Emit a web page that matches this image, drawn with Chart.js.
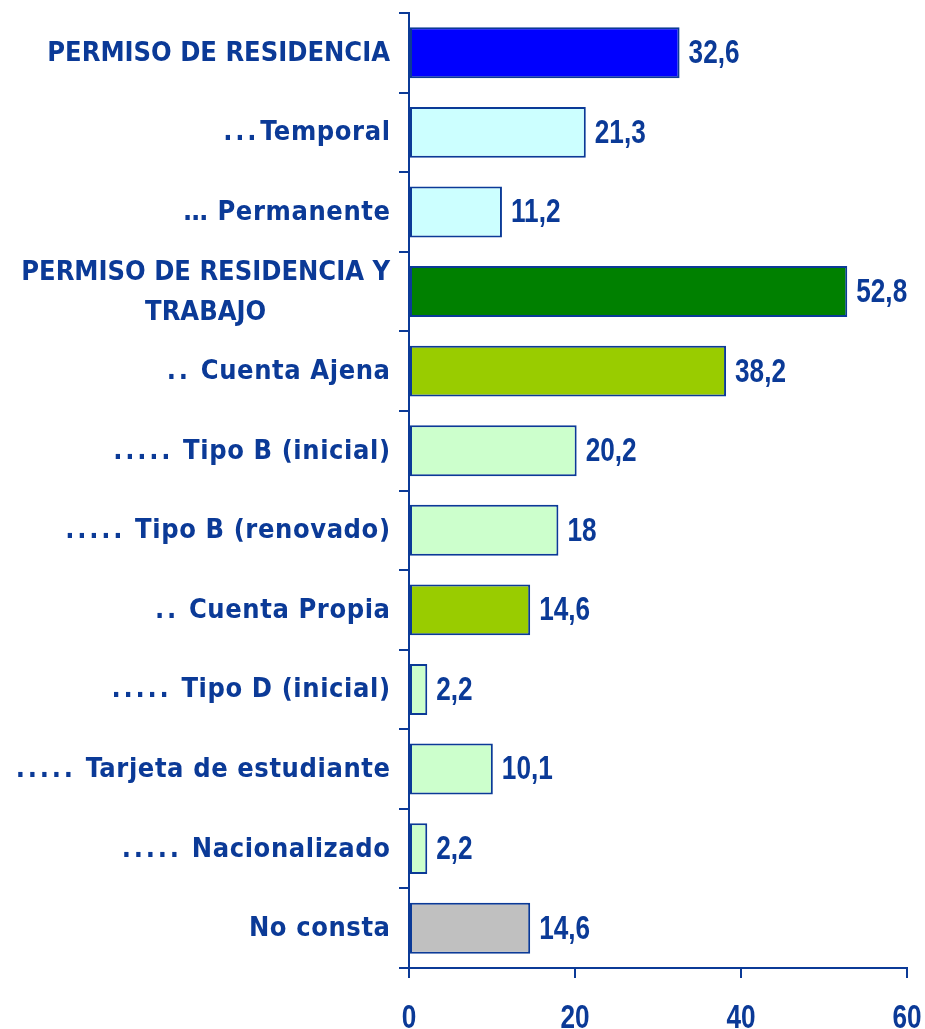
<!DOCTYPE html>
<html>
<head>
<meta charset="utf-8">
<script src="https://cdn.jsdelivr.net/npm/chart.js@4"></script>
<style>
  html, body { margin: 0; padding: 0; background: #fff; }
  #wrap { width: 925px; height: 1029px; }
</style>
</head>
<body>
<div id="wrap"><canvas id="permisosChart" width="925" height="1029"></canvas></div>
<script>
// values
const categories = [
    ["PERMISO DE RESIDENCIA"],
    ["...Temporal"],
    ["\u2026 Permanente"],
    ["PERMISO DE RESIDENCIA Y", "TRABAJO"],
    [".. Cuenta Ajena"],
    ["..... Tipo B (inicial)"],
    ["..... Tipo B (renovado)"],
    [".. Cuenta Propia"],
    ["..... Tipo D (inicial)"],
    ["..... Tarjeta de estudiante"],
    ["..... Nacionalizado"],
    ["No consta"]
];
const values = [32.6, 21.3, 11.2, 52.8, 38.2, 20.2, 18, 14.6, 2.2, 10.1, 2.2, 14.6];
const barColors = [
    "#0000ff", "#ccffff", "#ccffff", "#008000", "#99cc00", "#ccffcc",
    "#ccffcc", "#99cc00", "#ccffcc", "#ccffcc", "#ccffcc", "#c0c0c0"
];
const xTicks = [0, 20, 40, 60];

const navy = "#0b3a97";
const labelFont = "bold 27px 'DejaVu Sans Condensed', 'DejaVu Sans', sans-serif";
const dotPitch = 12;
const numFont = "bold 34px 'Liberation Sans', Arial, sans-serif";
const squeeze = 0.77;   // numbers in the picture use a narrow face

function drawNarrow(ctx, txt, x, y, align) {
    ctx.save();
    ctx.translate(x, y);
    ctx.scale(squeeze, 1);
    ctx.textAlign = align;
    ctx.fillText(txt, 0, 0);
    ctx.restore();
}

// y labels drawn by hand: centred two-line label and wide-spaced leading dots
const categoryLabels = {
    id: "categoryLabels",
    afterDraw(chart) {
        const ctx = chart.ctx;
        const y = chart.scales.y;
        ctx.save();
        ctx.font = labelFont;
        ctx.fillStyle = navy;
        ctx.textBaseline = "middle";
        const right = y.right - 19;
        categories.forEach((lines, i) => {
            const cy = y.getPixelForValue(i) + 1;
            const lh = 40;
            const caps = lines[0] === lines[0].toUpperCase();
            const sp = caps ? 0 : 0.6;
            ctx.letterSpacing = sp + "px";
            if (lines.length > 1) {
                const widest = Math.max(...lines.map(l => ctx.measureText(l).width));
                ctx.textAlign = "center";
                lines.forEach((line, k) => {
                    const ly = cy + (k - (lines.length - 1) / 2) * lh;
                    ctx.fillText(line, right - widest / 2, ly);
                });
                return;
            }
            const m = lines[0].match(/^(\.*)(\s?)(.*)$/);
            const rest = m[3];
            ctx.textAlign = "right";
            ctx.fillText(rest, right + sp, cy);
            let dx = right + sp - ctx.measureText(rest).width - (m[2] ? 17 : 8);
            ctx.textAlign = "center";
            for (let d = 0; d < m[1].length; d++) {
                ctx.fillText(".", dx, cy);
                dx -= dotPitch;
            }
        });
        ctx.restore();
    }
};

const valueLabels = {
    id: "valueLabels",
    afterDraw(chart) {
        const ctx = chart.ctx;
        const meta = chart.getDatasetMeta(0);
        const x = chart.scales.x;
        ctx.save();
        ctx.font = numFont;
        ctx.fillStyle = navy;
        ctx.textBaseline = "middle";
        meta.data.forEach((bar, i) => {
            const txt = String(values[i]).replace(".", ",");
            drawNarrow(ctx, txt, bar.x + 9, bar.y + 1, "left");
        });
        // x tick labels
        xTicks.forEach(v => {
            drawNarrow(ctx, String(v), x.getPixelForValue(v), x.bottom - 10, "center");
        });
        ctx.restore();
    }
};

new Chart(document.getElementById("permisosChart").getContext("2d"), {
    type: "bar",
    data: {
        labels: categories.map(c => c.join(" ")),
        datasets: [{
            data: values,
            backgroundColor: barColors,
            borderColor: navy,
            borderWidth: 2,
            borderSkipped: false,
            barPercentage: 0.64,
            categoryPercentage: 1
        }]
    },
    options: {
        responsive: false,
        animation: false,
        indexAxis: 'y',
        layout: { padding: { top: 13, right: 18, bottom: 0, left: 0 } },
        plugins: {
            legend: { display: false },
            tooltip: { enabled: false }
        },
        scales: {
            x: {
                min: 0,
                max: 60,
                afterBuildTicks: (scale) => { scale.ticks = xTicks.map(v => ({ value: v })); },
                afterFit: (scale) => { scale.height = 61; },
                border: { color: navy, width: 2 },
                grid: { drawOnChartArea: false, color: navy, lineWidth: 2, tickLength: 10 },
                ticks: { display: false }
            },
            y: {
                afterFit: (scale) => { scale.width = 409; },
                border: { color: navy, width: 2 },
                grid: { drawOnChartArea: false, color: navy, lineWidth: 2, tickLength: 10, offset: true },
                ticks: { display: false }
            }
        }
    },
    plugins: [categoryLabels, valueLabels]
});
</script>
</body>
</html>
